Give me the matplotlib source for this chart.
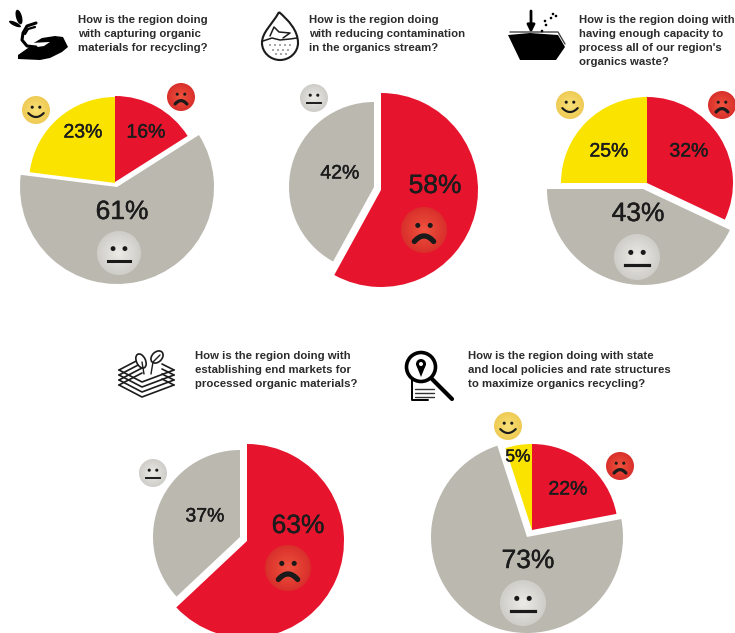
import numpy as np
import matplotlib
matplotlib.use("Agg")
import matplotlib.pyplot as plt
from matplotlib.patches import Wedge, Circle, Polygon, Ellipse, PathPatch
from matplotlib.path import Path
import matplotlib.patheffects as pe
from matplotlib.colors import to_rgb

plt.rcParams['font.family'] = ['Liberation Sans', 'DejaVu Sans']

# share of answers per question, clockwise from 12 o'clock
pie1_labels = ['red', 'gray', 'yellow']
pie1_values = [16, 61, 23]
pie2_labels = ['red', 'gray']
pie2_values = [58, 42]
pie3_labels = ['red', 'gray', 'yellow']
pie3_values = [32, 43, 25]
pie4_labels = ['red', 'gray']
pie4_values = [63, 37]
pie5_labels = ['red', 'gray', 'yellow']
pie5_values = [22, 73, 5]

title1 = "How is the region doing\nwith capturing organic\nmaterials for recycling?"
title2 = "How is the region doing\nwith reducing contamination\nin the organics stream?"
title3 = "How is the region doing with\nhaving enough capacity to\nprocess all of our region's\norganics waste?"
title4 = "How is the region doing with\nestablishing end markets for\nprocessed organic materials?"
title5 = "How is the region doing with state\nand local policies and rate structures\nto maximize organics recycling?"

colors = {'red': '#E7142E', 'gray': '#BAB8AF', 'yellow': '#FBE300'}
face_colors = {'red': ('#F0553F', '#D9302B'), 'gray': ('#EDECE8', '#CFCEC9'), 'yellow': ('#F8E27A', '#EFCB55')}
INK = '#1c1c1c'

fig = plt.figure(figsize=(7.35, 6.33), dpi=100, facecolor='white')
ax = fig.add_axes([0, 0, 1, 1])
ax.set_xlim(0, 735)
ax.set_ylim(633, 0)   # pixel style axes, angles run clockwise
ax.axis('off')


def draw_face(x, y, r, kind):
    c0, c1 = face_colors[kind]
    c0, c1 = np.array(to_rgb(c0)), np.array(to_rgb(c1))
    for f in np.linspace(1, 0.1, 12):
        ax.add_patch(Circle((x, y), r * f, fc=c1 + (c0 - c1) * (1 - f), ec='none', zorder=5))
    for sx in (-1, 1):
        ax.add_patch(Circle((x + sx * 0.27 * r, y - 0.2 * r), 0.11 * r, fc='#1a1a1a', ec='none', zorder=6))
    t = np.linspace(-1, 1, 30)
    lw = max(1.3, r * 0.11)
    if kind == 'yellow':
        ax.plot(x + 0.55 * r * t, y + 0.22 * r + 0.28 * r * (1 - t ** 2), color='#1a1a1a', lw=lw, zorder=6, solid_capstyle='round')
    elif kind == 'red':
        ax.plot(x + 0.42 * r * t, y + 0.5 * r - 0.24 * r * (1 - t ** 2), color='#1a1a1a', lw=lw * 1.5, zorder=6, solid_capstyle='round')
    else:
        ax.plot([x - 0.52 * r, x + 0.52 * r], [y + 0.36 * r, y + 0.36 * r], color='#1a1a1a', lw=lw * 0.9, zorder=6)


def draw_pie(values, labels, centers, radii):
    start = -90.0
    for v, lab in zip(values, labels):
        end = start + 3.6 * v
        ax.add_patch(Wedge(centers[lab], radii[lab], start, end, fc=colors[lab], ec='none', zorder=2))
        start = end


def pct(x, y, v, size):
    ax.text(x, y, f"{v}%", fontsize=size, ha='center', va='center', color=INK, zorder=4,
            path_effects=[pe.withStroke(linewidth=0.3, foreground=INK)])


def title(x, y, s):
    lines = s.split("\n")
    for i, line in enumerate(lines):
        ax.text(x, y + i * 13.9, line, fontsize=8.2, fontweight='bold', ha='left', va='center', color='#2b2b2b')


def curve(pts, lw, color='black', z=3):
    ax.plot([p[0] for p in pts], [p[1] for p in pts], color=color, lw=lw, solid_capstyle='round', solid_joinstyle='round', zorder=z)


# pies
draw_pie(pie1_values, pie1_labels,
         {'red': (115, 182), 'yellow': (115, 183), 'gray': (117, 187)},
         {'red': 86, 'yellow': 86, 'gray': 97})
draw_pie(pie2_values, pie2_labels,
         {'red': (381, 190), 'gray': (374, 187)},
         {'red': 97, 'gray': 85})
draw_pie(pie3_values, pie3_labels,
         {'red': (647, 183), 'yellow': (647, 183), 'gray': (643, 189)},
         {'red': 86, 'yellow': 86, 'gray': 96})
draw_pie(pie4_values, pie4_labels,
         {'red': (247, 541), 'gray': (240, 537)},
         {'red': 97, 'gray': 87})
draw_pie(pie5_values, pie5_labels,
         {'red': (532, 530), 'yellow': (532, 530), 'gray': (527, 537)},
         {'red': 86, 'yellow': 86, 'gray': 96})

# percentages
pct(83, 133, pie1_values[2], 14)
pct(146, 133, pie1_values[0], 14)
pct(122, 212, pie1_values[1], 19)
pct(340, 174, pie2_values[1], 14)
pct(435, 186, pie2_values[0], 19)
pct(609, 152, pie3_values[2], 14)
pct(689, 152, pie3_values[0], 14)
pct(638, 214, pie3_values[1], 19)
pct(205, 517, pie4_values[1], 14)
pct(298, 526, pie4_values[0], 19)
pct(518, 457, pie5_values[2], 12.5)
pct(568, 490, pie5_values[0], 14)
pct(528, 561, pie5_values[1], 19)

# faces
draw_face(36, 110, 14, 'yellow')
draw_face(181, 97, 14, 'red')
draw_face(119, 253, 22, 'gray')
draw_face(314, 98, 14, 'gray')
draw_face(424, 230, 23, 'red')
draw_face(570, 105, 14, 'yellow')
draw_face(722, 105, 14, 'red')
draw_face(637, 257, 23, 'gray')
draw_face(153, 473, 14, 'gray')
draw_face(288, 568, 23, 'red')
draw_face(508, 426, 14, 'yellow')
draw_face(620, 466, 14, 'red')
draw_face(523, 603, 23, 'gray')

# question texts
title(78, 20, title1)
title(309, 20, title2)
title(579, 20, title3)
title(195, 356, title4)
title(468, 356, title5)

# icon: hand holding a sprout
ax.add_patch(Polygon([(18, 55), (28, 48), (32, 44), (42, 38), (55, 36), (63, 37), (68, 47), (62, 52),
                      (50, 58), (40, 60), (18, 59)], fc='black', ec='none', zorder=3))
ax.add_patch(Polygon([(30, 43), (50, 42), (44, 46), (31, 48)], fc='white', ec='none', zorder=3))
curve([(36, 23), (27, 26), (23, 33), (22, 40), (27, 46), (36, 47)], 2.2)
ax.add_patch(Ellipse((19, 17), 6, 15, angle=-15, fc='black', zorder=3))
ax.add_patch(Ellipse((15, 24), 13, 4, angle=25, fc='black', zorder=3))
curve([(35, 27), (28, 29), (25, 34)], 1.6)

# icon: water drop with contamination
drop = Path([(279, 12), (288, 20), (298, 30), (298, 43), (298, 52), (290, 60), (280, 60), (270, 60), (262, 52),
             (262, 43), (262, 32), (272, 25), (279, 12)],
            [Path.MOVETO] + [Path.CURVE4] * 12)
ax.add_patch(PathPatch(drop, fc='white', ec='#1c1c1c', lw=1.5, zorder=3))
curve([(263, 41), (272, 38), (280, 40), (290, 39), (297, 38)], 1.1, '#1c1c1c')
curve([(270, 36), (274, 27), (279, 32), (290, 33), (283, 38)], 1.1, '#1c1c1c')
for dy, xs in ((45, (270, 275, 280, 285, 290)), (50, (273, 278, 283, 288)), (54, (276, 281, 286))):
    for dx in xs:
        ax.add_patch(Circle((dx, dy), 0.7, fc='#1c1c1c', zorder=4))

# icon: bin with falling arrow
ax.add_patch(Polygon([(508, 35), (520, 60), (556, 60), (565, 47), (558, 35), (530, 33)], fc='black', zorder=3))
curve([(510, 32), (558, 32), (565, 44)], 1.0, '#444444')
ax.annotate('', xy=(531, 33), xytext=(531, 11), zorder=4,
            arrowprops=dict(arrowstyle='-|>', color='black', lw=2, mutation_scale=11, shrinkA=0, shrinkB=0))
for px, py in ((553, 14), (556, 16), (551, 18), (545, 21), (546, 25), (542, 31)):
    ax.add_patch(Circle((px, py), 1.3, fc='black', zorder=4))

# icon: stack of layers with leaves
for dy in (0, 5, 10, 15):
    curve([(119, 370 + dy), (142, 382 + dy), (174, 370 + dy)], 1.2, '#1c1c1c')
    curve([(119, 370 + dy), (142, 358 + dy)], 1.2, '#1c1c1c')
    curve([(174, 370 + dy), (162, 364 + dy)], 1.2, '#1c1c1c')
ax.add_patch(Ellipse((141, 361), 9, 15, angle=-25, fc='white', ec='#1c1c1c', lw=1.2, zorder=4))
ax.add_patch(Ellipse((157, 357), 10, 14, angle=45, fc='white', ec='#1c1c1c', lw=1.2, zorder=4))
curve([(144, 374), (142, 362)], 1.0, '#1c1c1c', 5)
curve([(151, 374), (153, 362), (160, 355)], 1.0, '#1c1c1c', 5)

# icon: magnifier over a document
curve([(412, 378), (412, 400), (428, 400)], 1.4)
for yy in (389, 393, 397):
    curve([(415, yy), (434, yy)], 1.0, '#333333')
ax.add_patch(Circle((421, 367), 14.5, fc='white', ec='black', lw=2.6, zorder=3))
ax.add_patch(Circle((421, 364), 5, fc='black', zorder=4))
ax.add_patch(Polygon([(417, 367), (425, 367), (421, 377)], fc='black', zorder=4))
ax.add_patch(Circle((421, 364), 2, fc='white', zorder=5))
curve([(432, 379), (452, 399)], 3.0)

fig.savefig("out.png", dpi=100, facecolor='white')
